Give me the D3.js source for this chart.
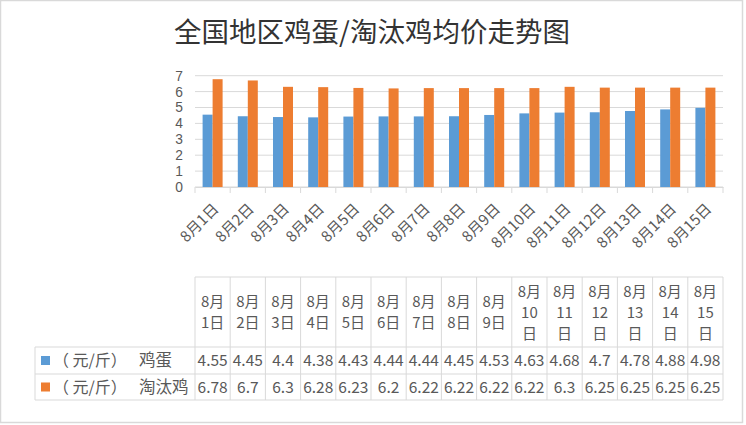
<!DOCTYPE html>
<html><head><meta charset="utf-8">
<script src="https://cdn.jsdelivr.net/npm/d3@7/dist/d3.min.js"></script>
<style>body{margin:0;background:#fff;}svg{display:block;}</style>
</head><body>
<svg id="c" width="746" height="425"></svg>
<script>
const categories = ["8月1日","8月2日","8月3日","8月4日","8月5日","8月6日","8月7日","8月8日","8月9日","8月10日","8月11日","8月12日","8月13日","8月14日","8月15日"];
const eggValues = [4.55,4.45,4.4,4.38,4.43,4.44,4.44,4.45,4.53,4.63,4.68,4.7,4.78,4.88,4.98];
const henValues = [6.78,6.7,6.3,6.28,6.23,6.2,6.22,6.22,6.22,6.22,6.3,6.25,6.25,6.25,6.25];
const seriesUnit = "（ 元/斤）";
const seriesNames = ["鸡蛋","淘汰鸡"];
const yTicks = [0,1,2,3,4,5,6,7];
const title = "全国地区鸡蛋/淘汰鸡均价走势图";

const colors = ["#5B9BD5","#ED7D31"];
const series = [eggValues, henValues];
const svg = d3.select("#c");
const font = "'Noto Sans CJK SC', 'Open Sans', sans-serif";
const textCol = "#595959";

// outer frame
svg.append("rect").attr("x",0.5).attr("y",0.5).attr("width",742).attr("height",422)
  .attr("fill","#fff").attr("stroke","#D9D9D9").attr("stroke-width",1.5);

svg.append("text").attr("x",372).attr("y",42).attr("text-anchor","middle")
  .attr("font-family",font).attr("font-size",27.5).attr("fill","#333").text(title);

const x = d3.scaleBand().domain(categories).range([195,723]);
const y = d3.scaleLinear().domain([0,7]).range([187,75.7]);

// gridlines
svg.append("g").selectAll("line").data(yTicks).join("line")
  .attr("x1",195).attr("x2",723).attr("y1",d=>y(d)).attr("y2",d=>y(d))
  .attr("stroke","#D9D9D9").attr("stroke-width",1);

// y axis labels
const yAxis = d3.axisLeft(y).tickValues(yTicks).tickFormat(d3.format("d")).tickSize(0).tickPadding(12);
const gy = svg.append("g").attr("transform","translate(195,0)").call(yAxis);
gy.select(".domain").remove();
gy.selectAll("text").attr("font-family","'Liberation Sans', Arial, sans-serif").attr("font-size",13.8).attr("fill",textCol);

// bars
const inner = d3.scaleBand().domain([0,1]).range([0,20]);
const off = (x.bandwidth()-20)/2;
series.forEach((vals,si)=>{
  svg.append("g").selectAll("rect").data(vals).join("rect")
    .attr("x",(d,i)=>x(categories[i])+off+inner(si))
    .attr("width",inner.bandwidth())
    .attr("y",d=>y(d)).attr("height",d=>y(0)-y(d))
    .attr("fill",colors[si]);
});

// x axis
const xAxis = d3.axisBottom(x).tickSize(0).tickFormat("");
const gx = svg.append("g").attr("transform",`translate(0,${y(0)})`).call(xAxis);
gx.select(".domain").attr("stroke","#D9D9D9");
const bounds = x.domain().map(c=>x(c)).concat([723]);
svg.append("g").selectAll("line").data(bounds).join("line")
  .attr("x1",d=>d).attr("x2",d=>d).attr("y1",y(0)).attr("y2",y(0)+6)
  .attr("stroke","#D9D9D9");
svg.append("g").selectAll("text").data(categories).join("text")
  .attr("transform",d=>`translate(${x(d)+x.bandwidth()/2+7},${y(0)+23}) rotate(-45)`)
  .attr("text-anchor","end").attr("font-family",font).attr("font-size",15).attr("fill",textCol)
  .text(d=>d);

// data table
const tTop=277, tHead=347, tR1=374, tR2=400, tLeft=35;
const lc = "#D9D9D9";
const tg = svg.append("g").attr("stroke",lc).attr("stroke-width",1);
tg.append("line").attr("x1",195).attr("x2",723).attr("y1",tTop).attr("y2",tTop);
[tHead,tR1,tR2].forEach(yy=>tg.append("line").attr("x1",tLeft).attr("x2",723).attr("y1",yy).attr("y2",yy));
bounds.forEach(xx=>tg.append("line").attr("x1",xx).attr("x2",xx).attr("y1",tTop).attr("y2",tR2));
tg.append("line").attr("x1",tLeft).attr("x2",tLeft).attr("y1",tHead).attr("y2",tR2);

// header cells
categories.forEach(c=>{
  const m = c.match(/^(\d+月)(\d+)(日)$/);
  const lines = m[2].length>1 ? [m[1],m[2],m[3]] : [m[1], m[2]+m[3]];
  const cx = x(c)+x.bandwidth()/2;
  const ys = lines.length===3 ? [297,318,339] : [307,328];
  lines.forEach((l,k)=>{
    svg.append("text").attr("x",cx).attr("y",ys[k]).attr("text-anchor","middle")
      .attr("font-family",font).attr("font-size",15).attr("fill",textCol).text(l);
  });
});

// value rows
const rowY = [(tHead+tR1)/2, (tR1+tR2)/2];
series.forEach((vals,si)=>{
  svg.append("rect").attr("x",41).attr("y",rowY[si]-4.5).attr("width",9).attr("height",9).attr("fill",colors[si]);
  svg.append("text").attr("x",53).attr("y",rowY[si]+5.5).attr("font-family",font).attr("font-size",16)
    .attr("fill",textCol).text(seriesUnit);
  svg.append("text").attr("x",139).attr("y",rowY[si]+5.5).attr("font-family",font).attr("font-size",16.5)
    .attr("fill",textCol).text(seriesNames[si]);
  svg.append("g").selectAll("text").data(vals).join("text")
    .attr("x",(d,i)=>x(categories[i])+x.bandwidth()/2).attr("y",rowY[si]+5.5)
    .attr("text-anchor","middle").attr("font-family",font).attr("font-size",15.5).attr("fill",textCol)
    .text(d=>d);
});
</script>
</body></html>
